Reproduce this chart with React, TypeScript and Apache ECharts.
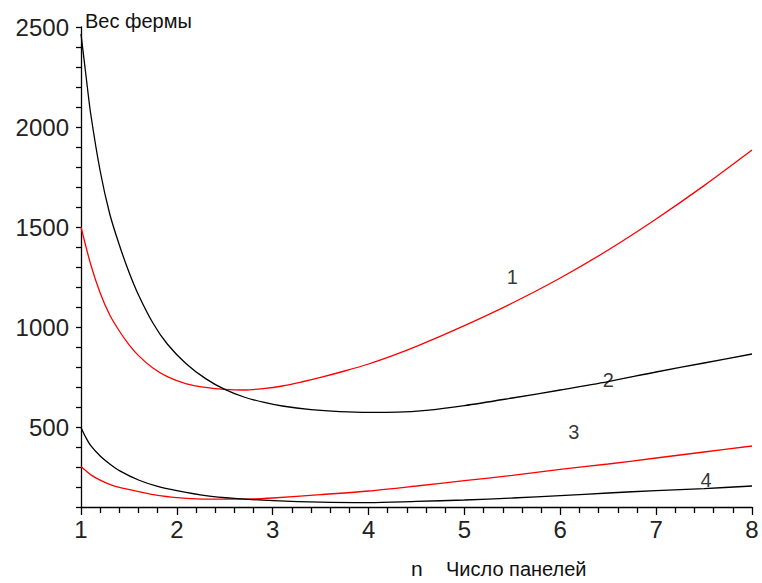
import React, { useEffect, useRef } from "react";
import * as echarts from "echarts";

// Curve 1 (red, upper)
const x1 = [1.0, 1.1, 1.2, 1.3, 1.4, 1.5, 1.6, 1.75, 1.9, 2.1, 2.3, 2.5, 2.7, 2.9, 3.1, 3.3, 3.5, 3.75, 4.0, 4.25, 4.5, 5.0, 5.5, 6.0, 6.5, 7.0, 7.5, 8.0];
const y1 = [1500, 1315, 1170, 1060, 980, 912, 857, 795, 752, 716, 698, 688, 685, 692, 705, 725, 748, 780, 815, 857, 903, 1007, 1120, 1245, 1385, 1540, 1707, 1885];

// Curve 2 (black, upper)
const x2 = [1.0, 1.05, 1.1, 1.2, 1.3, 1.4, 1.5, 1.6, 1.75, 1.9, 2.1, 2.3, 2.5, 2.7, 2.9, 3.1, 3.4, 3.7, 4.0, 4.3, 4.6, 5.0, 5.5, 6.0, 6.5, 7.0, 7.5, 8.0];
const y2 = [2465, 2265, 2070, 1780, 1565, 1410, 1275, 1160, 1020, 915, 815, 742, 688, 650, 624, 605, 587, 577, 573, 574, 583, 607, 645, 685, 727, 775, 820, 865];

// Curve 3 (red, lower)
const x3 = [1.0, 1.1, 1.2, 1.3, 1.4, 1.6, 1.8, 2.0, 2.2, 2.5, 2.8, 3.0, 3.5, 4.0, 4.5, 5.0, 5.5, 6.0, 6.5, 7.0, 7.5, 8.0];
const y3 = [302, 262, 234, 213, 198, 177, 158, 147, 141, 139, 140, 145, 162, 180, 205, 232, 258, 288, 315, 345, 375, 405];

// Curve 4 (black, lower)
const x4 = [1.0, 1.05, 1.1, 1.2, 1.3, 1.4, 1.6, 1.8, 2.0, 2.3, 2.6, 3.0, 3.5, 4.0, 4.5, 5.0, 5.5, 6.0, 6.5, 7.0, 7.5, 8.0];
const y4 = [498, 448, 408, 355, 315, 282, 235, 203, 182, 157, 143, 132, 124, 122, 128, 135, 145, 157, 170, 182, 192, 205];

// Curve number labels
const labelX = [5.5, 6.5, 6.14, 7.52];
const labelY = [1250, 735, 475, 235];
const labelText = ["1", "2", "3", "4"];

const yTitle = "Вес фермы";
const xVar = "n";
const xTitle = "Число панелей";

const zip = (xs: number[], ys: number[]) => xs.map((x, i) => [x, ys[i]]);

export default function App() {
  const ref = useRef<HTMLDivElement>(null);
  useEffect(() => {
    if (!ref.current) return;
    const chart = echarts.init(ref.current, null, { renderer: "svg" });
    const font = "'Liberation Sans', Arial, sans-serif";
    const lineSeries = (data: number[][], color: string) => ({
      type: "line",
      data,
      showSymbol: false,
      smooth: 0.3,
      lineStyle: { color, width: 1.3 },
      itemStyle: { color },
      silent: true,
    });
    chart.setOption({
      animation: false,
      backgroundColor: "#ffffff",
      grid: { left: 81, right: 10, top: 27, bottom: 76 },
      xAxis: {
        type: "value",
        min: 1,
        max: 8,
        interval: 1,
        axisLine: { show: true, onZero: false, lineStyle: { color: "#000", width: 1.3 } },
        axisTick: { show: true, length: 8, lineStyle: { color: "#000", width: 1.3 } },
        minorTick: { show: true, splitNumber: 5, length: 6, lineStyle: { color: "#000", width: 1.3 } },
        splitLine: { show: false },
        minorSplitLine: { show: false },
        axisLabel: { fontSize: 24, color: "#222", margin: 10, fontFamily: font },
      },
      yAxis: {
        type: "value",
        min: 100,
        max: 2500,
        interval: 100,
        axisLine: { show: true, onZero: false, lineStyle: { color: "#000", width: 1.3 } },
        axisTick: { show: true, length: 5, lineStyle: { color: "#000", width: 1.3 } },
        splitLine: { show: false },
        axisLabel: {
          fontSize: 24,
          color: "#222",
          margin: 12,
          fontFamily: font,
          formatter: (v: number) => (Math.round(v) % 500 === 0 ? String(Math.round(v)) : ""),
        },
      },
      series: [
        lineSeries(zip(x1, y1), "#ff0000"),
        lineSeries(zip(x2, y2), "#000000"),
        lineSeries(zip(x3, y3), "#ff0000"),
        lineSeries(zip(x4, y4), "#000000"),
        {
          type: "scatter",
          symbolSize: 0,
          silent: true,
          data: labelX.map((x, i) => ({ value: [x, labelY[i]], name: labelText[i] })),
          label: {
            show: true,
            position: "inside",
            formatter: (p: any) => p.name,
            fontSize: 20,
            color: "#000",
            fontFamily: font,
          },
        },
      ],
      graphic: [
        { type: "text", left: 85, top: 11, style: { text: yTitle, fontSize: 20, fill: "#111", fontFamily: font } },
        { type: "text", left: 411, top: 558, style: { text: xVar, fontSize: 21, fill: "#111", fontFamily: font } },
        { type: "text", left: 446, top: 559, style: { text: xTitle, fontSize: 20, fill: "#111", fontFamily: font } },
      ],
    });
    return () => chart.dispose();
  }, []);
  return (
    <div
      ref={ref}
      style={{ position: "fixed", left: 0, top: 0, width: 762, height: 583, background: "#fff" }}
    />
  );
}
